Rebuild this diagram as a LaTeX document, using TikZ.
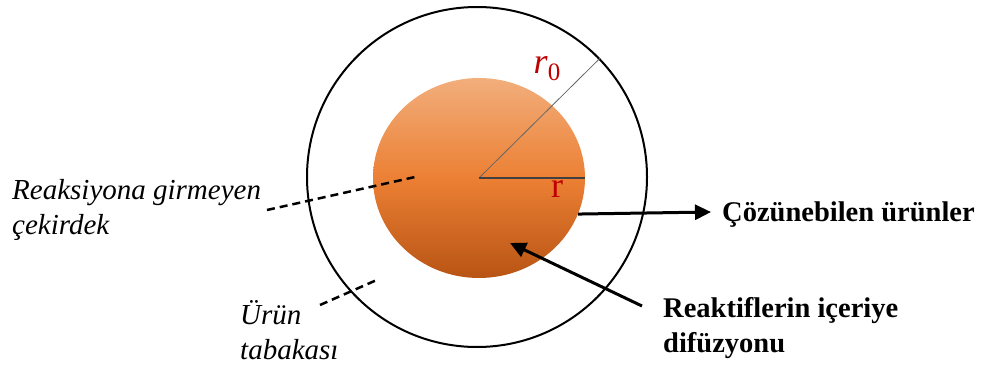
\documentclass[tikz,border=0pt]{standalone}
\usepackage{fontspec}
\setmainfont{Liberation Serif}
\usepackage{tikz}
\usetikzlibrary{arrows.meta,positioning,shapes.geometric,calc}
\definecolor{ink}{RGB}{0,0,0}
\definecolor{labelred}{RGB}{192,0,0}
\definecolor{coretop}{RGB}{242,174,124}
\definecolor{coremid}{RGB}{236,128,52}
\definecolor{corebot}{RGB}{184,84,20}

\begin{document}
\begin{tikzpicture}[x=1pt,y=1pt,
    italiclabel/.style={anchor=north west,inner sep=0pt,align=left,
      font=\fontsize{29}{35}\selectfont\itshape},
    boldlabel/.style={anchor=north west,inner sep=0pt,align=left,
      font=\fontsize{28.5}{35}\selectfont\bfseries},
    thickarrow/.style={line width=3pt,draw=ink,
      -{Triangle[length=16pt,width=15pt]}},
    pointer/.style={line width=2.5pt,dash pattern=on 8pt off 5pt}]
  \useasboundingbox (0,0) rectangle (988,365);

  % particle: unreacted core inside the product layer
  \node[draw=ink,line width=2pt,circle,minimum size=340pt,inner sep=0pt]
    (shell) at (477,188) {};
  \node[ellipse,minimum width=212pt,minimum height=200pt,inner sep=0pt,
    top color=coretop,bottom color=corebot,middle color=coremid]
    (core) at (479,187) {};
  \coordinate (centre) at (479,187);

  % radii
  \draw[gray!80!black,line width=0.8pt] (centre) -- (shell.44.5);
  \draw[black!75,line width=1.4pt] (centre) -- (core.east);
  \node[text=labelred,font=\fontsize{36}{36}\selectfont,inner sep=0pt]
    (rzero) at (547,296) {\textit{r}\raisebox{-7pt}{\fontsize{25}{25}\selectfont 0}};
  \node[text=labelred,font=\fontsize{36}{36}\selectfont] (rcore) at (557,176) {r};

  % left labels
  \node[italiclabel] (corelabel) at (12,186)
    {Reaksiyona girmeyen\\çekirdek};
  \node[italiclabel] (layerlabel) at (240,65) {Ürün\\tabakası};
  \coordinate (corefoot) at (267,155);
  \coordinate (coretip) at (415,188);
  \coordinate (layerfoot) at (320,60);
  \coordinate (layertip) at (379,86);
  \draw[pointer] (corefoot) -- (coretip);
  \draw[pointer] (layerfoot) -- (layertip);

  % right labels
  \node[boldlabel] (products) at (722,163) {Çözünebilen ürünler};
  \node[boldlabel] (diffusion) at (663,68) {Reaktiflerin içeriye\\difüzyonu};
  \coordinate (prodend) at (711,153);
  \coordinate (difftail) at (642,59);
  \coordinate (difftip) at (510,122);
  \draw[thickarrow] (core.-20) -- (prodend);
  \draw[thickarrow] (difftail) -- (difftip);
\end{tikzpicture}
\end{document}
